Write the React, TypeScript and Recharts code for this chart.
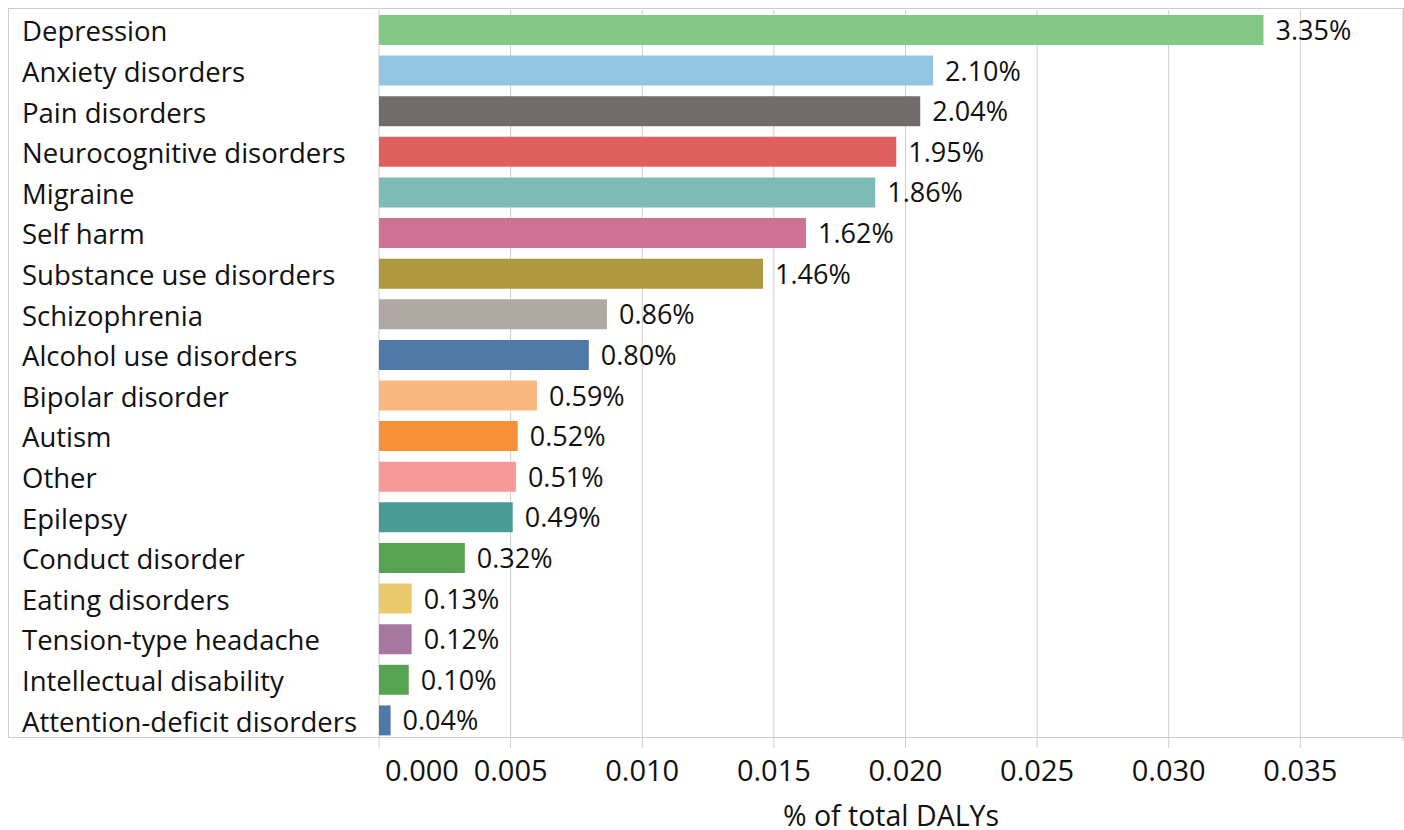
import React from 'react';
import { BarChart, Bar, XAxis, YAxis, CartesianGrid, Cell, LabelList, Label } from 'recharts';

const categories = [
    'Depression',
    'Anxiety disorders',
    'Pain disorders',
    'Neurocognitive disorders',
    'Migraine',
    'Self harm',
    'Substance use disorders',
    'Schizophrenia',
    'Alcohol use disorders',
    'Bipolar disorder',
    'Autism',
    'Other',
    'Epilepsy',
    'Conduct disorder',
    'Eating disorders',
    'Tension-type headache',
    'Intellectual disability',
    'Attention-deficit disorders',
];

// share of total DALYs (bar lengths)
const shares = [
    0.0336, 0.02105, 0.02056, 0.01965, 0.01885, 0.01622, 0.01459, 0.00866, 0.00797,
    0.0060, 0.00527, 0.0052, 0.00508, 0.00326, 0.00124, 0.00124, 0.00113, 0.00044,
];

const shareLabels = [
    '3.35%', '2.10%', '2.04%', '1.95%', '1.86%', '1.62%', '1.46%', '0.86%', '0.80%',
    '0.59%', '0.52%', '0.51%', '0.49%', '0.32%', '0.13%', '0.12%', '0.10%', '0.04%',
];

const colors = [
    '#84c886', '#92c5e2', '#716b6b', '#e06060', '#7fbbb5', '#cd7293', '#ae9840', '#b0a8a4',
    '#4f79a6', '#f9b97e', '#f79036', '#f59897', '#499b96', '#58a352', '#ebc96b', '#a8779f',
    '#58a352', '#4f79a6',
];

const xTicks = [0, 0.005, 0.01, 0.015, 0.02, 0.025, 0.03, 0.035];
const xMax = 0.0389;

const data = categories.map((name, i) => ({
    name,
    value: shares[i],
    label: shareLabels[i],
}));

const FONT = '"Open Sans", sans-serif';
const GRID = '#cccccc';

const CategoryTick = (props: any) => {
    const { y, payload } = props;
    return (
        <text x={22} y={y + 11} fontFamily={FONT} fontSize={27.5} fill="#111">
            {payload.value}
        </text>
    );
};

const ValueTick = (props: any) => {
    const { x, y, payload } = props;
    const first = payload.value === 0;
    return (
        <text
            x={first ? x + 6 : x}
            y={y + 31}
            textAnchor={first ? 'start' : 'middle'}
            fontFamily={FONT}
            fontSize={29}
            fill="#111"
        >
            {payload.value.toFixed(3)}
        </text>
    );
};

const ValueLabel = (props: any) => {
    const { x, y, width, height, value } = props;
    return (
        <text
            x={x + width + 12}
            y={y + height / 2 + 10}
            fontFamily={FONT}
            fontSize={27}
            fill="#111"
        >
            {value}
        </text>
    );
};

export default function App() {
    return (
        <div style={{ position: 'absolute', left: 0, top: 0, width: 1404, height: 830, background: '#fff' }}>
            <BarChart
                width={1404}
                height={830}
                data={data}
                layout="vertical"
                margin={{ top: 10, right: 1, bottom: 0, left: 8 }}
            >
                <CartesianGrid horizontal={false} stroke={GRID} />
                <XAxis
                    type="number"
                    domain={[0, xMax]}
                    ticks={xTicks}
                    height={89}
                    axisLine={false}
                    tickSize={7}
                    tickLine={{ stroke: GRID }}
                    tick={<ValueTick />}
                    interval={0}
                >
                    <Label
                        content={({ viewBox }: any) => (
                            <text
                                x={viewBox.x + viewBox.width / 2}
                                y={viewBox.y + viewBox.height - 4}
                                textAnchor="middle"
                                fontFamily={FONT}
                                fontSize={28.5}
                                fill="#111"
                            >
                                % of total DALYs
                            </text>
                        )}
                    />
                </XAxis>
                <YAxis
                    type="category"
                    dataKey="name"
                    width={371}
                    axisLine={false}
                    tickLine={false}
                    tick={<CategoryTick />}
                    interval={0}
                />
                <Bar dataKey="value" barSize={30} isAnimationActive={false}>
                    {data.map((d, i) => (
                        <Cell key={d.name} fill={colors[i]} />
                    ))}
                    <LabelList dataKey="label" content={<ValueLabel />} />
                </Bar>
            </BarChart>
            <div
                style={{
                    position: 'absolute',
                    left: 8,
                    top: 8,
                    width: 1396,
                    height: 730,
                    boxSizing: 'border-box',
                    border: `1px solid ${GRID}`,
                    pointerEvents: 'none',
                }}
            />
        </div>
    );
}
